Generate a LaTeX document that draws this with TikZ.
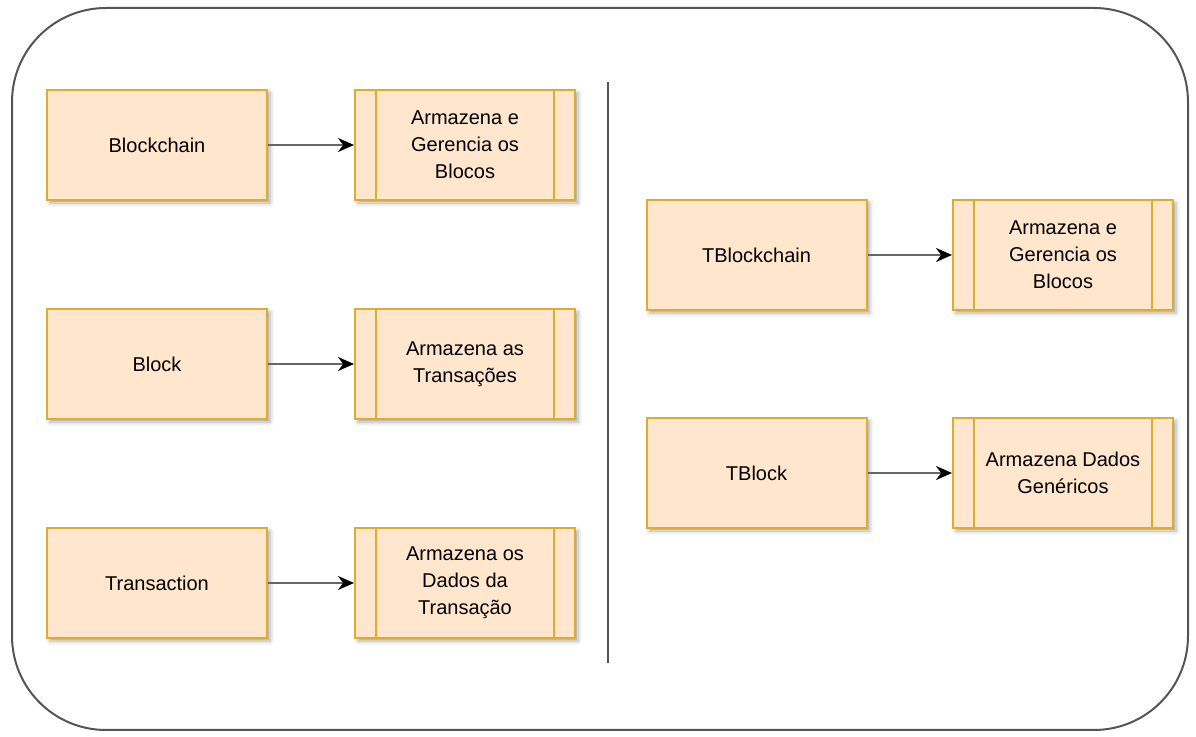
\documentclass[tikz,border=0pt]{standalone}
\usepackage{fontspec}
\setmainfont{Liberation Sans}
\usetikzlibrary{shapes,arrows.meta,positioning,calc,shadows.blur}
\definecolor{boxfill}{HTML}{FFE6CC}
\definecolor{boxedge}{HTML}{DDAE2E}
\definecolor{frameedge}{HTML}{555555}

\begin{document}
\begin{tikzpicture}[
  x=0.5pt, y=-0.5pt,
  objbox/.style={rectangle, draw=boxedge, line width=1pt, fill=boxfill, minimum width=110pt, minimum height=55pt, align=center,
    font=\fontsize{10}{13.5}\selectfont,
    blur shadow={shadow blur steps=3, shadow xshift=1.5pt, shadow yshift=-1.5pt, shadow opacity=35}},
  procbox/.style={objbox, path picture={
    \draw[boxedge, line width=1pt] ([xshift=10.5pt]path picture bounding box.north west) -- ([xshift=10.5pt]path picture bounding box.south west);
    \draw[boxedge, line width=1pt] ([xshift=-10.5pt]path picture bounding box.north east) -- ([xshift=-10.5pt]path picture bounding box.south east);}},
  arr/.style={-{Stealth[length=8pt, width=7pt, black]}, line width=1.2pt, black!60},
  frame/.style={rectangle, draw=frameedge, line width=1pt, rounded corners=47pt, minimum width=588pt, minimum height=361pt}
]
  \useasboundingbox (0,0) rectangle (1196,737);
  \node[frame] (border) at (600,369) {};

  % left column
  \node[objbox] (chain) at (157,145) {Blockchain};
  \node[procbox] (chainproc) at (465,145) {Armazena e\\Gerencia os\\Blocos};
  \node[objbox] (block) at (157,364) {Block};
  \node[procbox] (blockproc) at (465,364) {Armazena as\\Transações};
  \node[objbox] (tx) at (157,583) {Transaction};
  \node[procbox] (txproc) at (465,583) {Armazena os\\Dados da\\Transação};

  % divider
  \coordinate (divtop) at (608,82);
  \coordinate (divbot) at (608,663);
  \draw[frameedge, line width=1pt] (divtop) -- (divbot);

  % right column
  \node[objbox] (tchain) at (756.5,255) {TBlockchain};
  \node[procbox] (tchainproc) at (1063,255) {Armazena e\\Gerencia os\\Blocos};
  \node[objbox] (tblock) at (756.5,473) {TBlock};
  \node[procbox] (tblockproc) at (1063,473) {Armazena Dados\\Genéricos};

  \draw[arr] (chain) -- (chainproc);
  \draw[arr] (block) -- (blockproc);
  \draw[arr] (tx) -- (txproc);
  \draw[arr] (tchain) -- (tchainproc);
  \draw[arr] (tblock) -- (tblockproc);
\end{tikzpicture}
\end{document}
